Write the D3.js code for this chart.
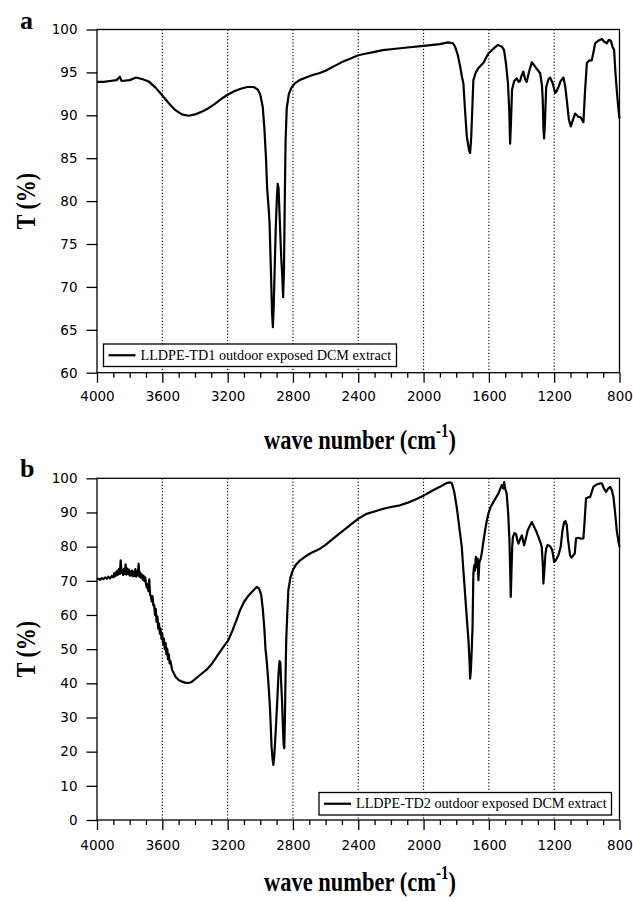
<!DOCTYPE html>
<html><head><meta charset="utf-8">
<script src="https://cdn.jsdelivr.net/npm/d3@7"></script>
<style>body{margin:0;background:#fff}svg{display:block}</style>
</head><body>
<svg id="c" width="633" height="902"></svg>
<script>
const xTicks = [4000,3600,3200,2800,2400,2000,1600,1200,800];
const gridLines = [3600,3200,2800,2400,2000,1600,1200];
const yTicksA = [60,65,70,75,80,85,90,95,100];
const yTicksB = [0,10,20,30,40,50,60,70,80,90,100];
const legendA = "LLDPE-TD1 outdoor exposed DCM extract";
const legendB = "LLDPE-TD2 outdoor exposed DCM extract";

const wnA = [4000,3960,3920,3880,3860,3850,3800,3760,3720,3680,3640,3600,3560,3520,3480,3440,3400,3360,3320,3280,3240,3200,3160,3120,3080,3040,3015,3000,2985,2975,2965,2958,2950,2943,2935,2928,2923,2918,2912,2905,2898,2893,2888,2880,2872,2866,2860,2855,2850,2845,2838,2825,2810,2790,2760,2720,2680,2640,2600,2550,2500,2450,2400,2350,2300,2250,2200,2100,2000,1900,1850,1820,1807,1790,1776,1765,1756,1746,1735,1722,1715,1708,1700,1695,1680,1664,1634,1615,1603,1570,1545,1520,1507,1495,1483,1475,1470,1465,1458,1445,1429,1418,1409,1400,1389,1378,1368,1355,1337,1310,1286,1275,1270,1266,1262,1257,1249,1235,1225,1210,1194,1185,1174,1160,1143,1132,1123,1110,1098,1085,1072,1060,1052,1040,1021,1012,1000,985,970,958,949,930,908,895,877,865,853,843,833,825,817,808,800];
const tA = [93.9,93.9,94.0,94.1,94.5,94.0,94.1,94.4,94.2,93.9,93.2,92.3,91.4,90.6,90.1,89.95,90.1,90.4,90.8,91.3,91.9,92.4,92.8,93.1,93.3,93.3,93.0,92.4,91.0,88.5,85.0,81.5,79.5,77.4,72.0,67.0,65.3,67.5,72.0,77.0,80.5,82.0,81.5,77.5,73.5,71.5,68.8,72.0,80.0,87.0,90.8,92.5,93.2,93.7,94.1,94.4,94.7,94.9,95.2,95.7,96.2,96.6,97.0,97.2,97.4,97.6,97.7,97.9,98.1,98.3,98.5,98.4,98.0,97.0,95.7,94.5,93.7,90.6,87.5,86.0,85.6,87.5,91.5,94.1,95.0,95.5,96.1,96.8,97.2,97.8,98.2,98.0,97.6,96.0,93.7,90.5,86.7,89.0,93.0,94.0,94.3,93.9,94.0,94.6,95.1,94.2,93.9,95.0,96.2,95.5,94.9,93.5,91.8,88.5,87.3,89.0,93.3,94.2,94.4,93.8,92.6,92.8,93.3,94.0,94.4,93.3,91.8,89.5,88.7,89.5,90.2,90.0,89.8,89.8,89.2,92.5,96.1,96.4,96.4,97.5,98.4,98.7,98.9,98.6,98.4,98.8,98.7,98.0,97.6,95.0,93.0,91.0,89.6];

const wnB = [4000,3990,3980,3970,3960,3950,3940,3930,3920,3910,3900,3895,3890,3885,3880,3875,3870,3865,3860,3855,3850,3845,3840,3835,3830,3825,3820,3815,3810,3805,3800,3795,3790,3785,3780,3775,3770,3765,3760,3755,3750,3745,3740,3735,3730,3725,3720,3715,3710,3705,3700,3695,3690,3685,3680,3675,3670,3665,3660,3655,3650,3645,3640,3635,3630,3625,3620,3615,3610,3605,3600,3595,3590,3585,3580,3575,3570,3565,3560,3555,3550,3540,3520,3500,3480,3460,3440,3420,3400,3380,3360,3330,3300,3270,3247,3220,3196,3170,3140,3124,3100,3070,3040,3022,3008,2995,2985,2975,2968,2961,2950,2941,2935,2931,2925,2920,2914,2908,2904,2895,2888,2882,2877,2872,2866,2862,2857,2853,2849,2845,2841,2835,2828,2815,2801,2780,2756,2720,2695,2660,2634,2600,2552,2500,2450,2399,2350,2300,2246,2200,2144,2100,2050,1997,1950,1900,1858,1840,1827,1812,1797,1782,1766,1756,1746,1735,1725,1718,1715,1710,1705,1700,1695,1690,1685,1680,1674,1669,1664,1658,1650,1644,1635,1623,1613,1603,1590,1572,1555,1542,1530,1521,1512,1507,1500,1491,1482,1474,1468,1466,1462,1457,1453,1443,1433,1426,1419,1410,1398,1391,1384,1373,1362,1350,1337,1325,1310,1296,1286,1276,1270,1266,1261,1254,1249,1240,1225,1212,1200,1190,1174,1160,1150,1139,1131,1123,1115,1103,1095,1082,1074,1066,1050,1035,1021,1013,1005,990,980,970,960,940,920,908,895,882,870,857,847,837,827,817,808,800];
const tB = [70.4,70.6,70.3,70.8,70.5,71.0,70.6,71.2,70.7,71.4,71.0,72.2,71.3,72.5,71.6,73.0,71.8,73.5,72.0,76.0,72.3,73.2,71.7,73.5,72.0,74.8,71.8,73.6,72.0,73.3,71.5,72.8,71.6,73.0,71.3,72.6,71.4,73.4,71.2,72.8,71.6,75.0,71.2,72.4,70.9,71.8,70.3,71.5,70.0,71.0,69.2,68.0,69.0,67.0,70.4,66.0,65.5,64.0,65.5,62.8,63.0,60.0,61.8,58.0,59.5,56.0,57.5,54.5,56.0,53.0,54.5,51.5,53.0,50.0,51.8,48.5,50.2,47.0,48.5,45.8,46.5,44.0,42.0,41.0,40.5,40.2,40.1,40.4,41.2,42.0,42.8,43.9,45.5,47.6,49.2,51.0,52.6,55.5,59.2,61.4,63.8,65.8,67.3,68.2,67.8,66.0,62.0,56.0,50.0,46.8,40.0,33.1,26.5,21.4,18.0,16.1,19.0,24.0,27.3,36.0,43.0,46.5,46.0,40.0,34.0,28.0,22.0,21.0,30.0,43.0,52.6,60.0,67.3,71.0,73.1,74.8,76.0,77.2,78.0,78.8,79.4,80.5,82.4,84.4,86.3,88.2,89.6,90.3,91.1,91.6,92.1,92.8,93.8,95.0,96.3,97.5,98.6,98.8,98.6,96.0,91.6,86.0,79.9,73.0,66.3,59.0,52.6,46.0,41.4,44.0,49.7,56.5,72.1,74.5,73.0,77.0,74.0,76.5,70.2,75.5,76.5,78.0,81.0,84.8,87.5,89.7,91.5,93.1,94.5,95.5,97.0,98.0,97.0,98.9,97.0,95.5,90.0,81.9,70.0,65.3,72.0,80.0,82.8,84.0,83.6,82.0,80.9,82.0,83.3,81.8,80.4,82.5,84.8,86.0,87.2,86.0,84.5,82.8,81.5,79.9,75.0,69.2,72.5,77.5,79.4,80.5,80.1,79.0,75.5,76.0,77.5,80.0,84.5,87.2,87.5,86.3,82.0,77.5,76.8,77.5,78.0,82.4,82.6,82.3,82.4,88.0,94.1,94.5,94.5,96.0,97.5,98.2,98.5,98.5,97.0,96.0,97.0,97.5,96.5,94.5,90.0,84.8,82.0,79.9];

const svg = d3.select("#c");
const L = 97, R = 619.5;
const x = d3.scaleLinear().domain([4000,800]).range([L,R]);
const SERIF = "Liberation Serif, Times New Roman, serif";
const SANS = "DejaVu Sans, Verdana, sans-serif";

const panels = [
  {letter:"a", top:29.5, bottom:372.7, yDomain:[60,100], yTicks:yTicksA, wn:wnA, t:tA, legend:legendA,
   leg:{x0:103.5,y0:344,x1:396.5,y1:366.5}, letterY:29, xPad:9, titleY:449},
  {letter:"b", top:478.3, bottom:820, yDomain:[0,100], yTicks:yTicksB, wn:wnB, t:tB, legend:legendB,
   leg:{x0:319,y0:792.5,x1:611.5,y1:815}, letterY:477, xPad:10, titleY:891}
];

panels.forEach(p => {
  const y = d3.scaleLinear().domain(p.yDomain).range([p.bottom,p.top]);
  const g = svg.append("g");
  g.selectAll("line.grid").data(gridLines).join("line")
    .attr("x1",d=>x(d)).attr("x2",d=>x(d)).attr("y1",p.top).attr("y2",p.bottom)
    .attr("stroke","#000").attr("stroke-width",1.1).attr("stroke-dasharray","1.2,2");
  g.append("rect").attr("x",L).attr("y",p.top).attr("width",R-L).attr("height",p.bottom-p.top)
    .attr("fill","none").attr("stroke","#000").attr("stroke-width",1.3);
  const ya = g.append("g").attr("transform",`translate(${L},0)`)
    .call(d3.axisLeft(y).tickValues(p.yTicks).tickSize(10.5).tickPadding(9).tickFormat(d3.format("d")));
  ya.select(".domain").remove();
  ya.selectAll("line").attr("stroke-width",1.3);
  ya.selectAll("text").attr("font-family",SANS).attr("font-size",13.5).attr("fill","#000");
  const minor = d3.range(800,4001,100).filter(v=>v%400!==0);
  g.append("g").attr("transform",`translate(0,${p.bottom})`)
    .call(d3.axisBottom(x).tickValues(minor).tickSize(5).tickFormat(""))
    .call(a=>{a.select(".domain").remove(); a.selectAll("line").attr("stroke-width",1.3);});
  const xa = g.append("g").attr("transform",`translate(0,${p.bottom})`)
    .call(d3.axisBottom(x).tickValues(xTicks).tickSize(10).tickPadding(p.xPad).tickFormat(d3.format("d")));
  xa.select(".domain").remove();
  xa.selectAll("line").attr("stroke-width",1.3);
  xa.selectAll("text").attr("font-family",SANS).attr("font-size",13.5).attr("fill","#000");
  const pts = p.wn.map((w,i)=>[w,p.t[i]]);
  g.append("path").datum(pts)
    .attr("d",d3.line().x(d=>x(d[0])).y(d=>y(d[1])))
    .attr("fill","none").attr("stroke","#000").attr("stroke-width",2.2).attr("stroke-linejoin","round");
  const lg = p.leg;
  g.append("rect").attr("x",lg.x0).attr("y",lg.y0).attr("width",lg.x1-lg.x0).attr("height",lg.y1-lg.y0)
    .attr("fill","#fff").attr("stroke","#000").attr("stroke-width",1.3);
  const my = (lg.y0+lg.y1)/2;
  g.append("line").attr("x1",lg.x0+5).attr("x2",lg.x0+32).attr("y1",my).attr("y2",my)
    .attr("stroke","#000").attr("stroke-width",2.2);
  g.append("text").attr("x",lg.x0+37).attr("y",my+4.5).text(p.legend)
    .attr("font-family",SERIF).attr("font-size",14.2);
  const xt = g.append("text").attr("transform",`translate(360,${p.titleY}) scale(1,1.2)`).attr("text-anchor","middle")
    .attr("font-family",SERIF).attr("font-weight","bold").attr("font-size",22.5);
  xt.append("tspan").text("wave number (cm");
  xt.append("tspan").text("-1").attr("font-size",15).attr("dy",-10);
  xt.append("tspan").text(")").attr("dy",10);
  svg.append("text").attr("transform",`translate(35,${(p.top+p.bottom)/2}) scale(1.25,1) rotate(-90)`)
    .attr("text-anchor","middle").attr("font-family",SERIF)
    .attr("font-weight","bold").attr("font-size",22).text("T (%)");
  svg.append("text").attr("x",20).attr("y",p.letterY).text(p.letter)
    .attr("font-family",SERIF).attr("font-weight","bold").attr("font-size",26);
});
</script>
</body></html>
